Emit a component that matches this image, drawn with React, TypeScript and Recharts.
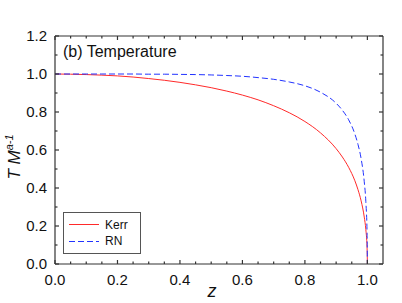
import React from 'react';
import { LineChart, Line, XAxis, YAxis, Label } from 'recharts';

// z = rotation / charge parameter
const zValues = [
  0, 0.05, 0.1, 0.15, 0.2, 0.25, 0.3, 0.35, 0.4, 0.45, 0.5, 0.55, 0.6, 0.65, 0.7,
  0.75, 0.8, 0.85, 0.9, 0.92, 0.94, 0.96, 0.97, 0.98, 0.99, 0.995, 0.999, 1.0,
];
// T M^{a-1}, Kerr
const kerrT = [
  1.0, 0.999, 0.997, 0.994, 0.99, 0.984, 0.976, 0.967, 0.956, 0.943, 0.928, 0.91, 0.889, 0.864, 0.833,
  0.796, 0.75, 0.69, 0.607, 0.563, 0.509, 0.438, 0.391, 0.332, 0.247, 0.182, 0.086, 0.0,
];
// T M^{a-1}, RN
const rnT = [
  1.0, 1.0, 1.0, 1.0, 1.0, 1.0, 0.999, 0.999, 0.998, 0.997, 0.995, 0.992, 0.988, 0.981, 0.972,
  0.958, 0.938, 0.904, 0.846, 0.809, 0.759, 0.684, 0.629, 0.554, 0.433, 0.33, 0.164, 0.0,
];

const xTicks = [0, 0.05, 0.1, 0.15, 0.2, 0.25, 0.3, 0.35, 0.4, 0.45, 0.5, 0.55, 0.6, 0.65, 0.7, 0.75, 0.8, 0.85, 0.9, 0.95, 1.0];
const yTicks = [0, 0.1, 0.2, 0.3, 0.4, 0.5, 0.6, 0.7, 0.8, 0.9, 1.0, 1.1, 1.2];
const X_MAX = 1.05;
const Y_MAX = 1.2;

const data = zValues.map((z, i) => ({ z, kerr: kerrT[i], rn: rnT[i] }));

const W = 402;
const H = 303;
const Y_AXIS_W = 40;
const X_AXIS_H = 30;
const MARGIN = { top: 36, right: 19, left: 15, bottom: 9 };
const PLOT_TOP = MARGIN.top;
const PLOT_RIGHT = W - MARGIN.right;
const PLOT_LEFT = MARGIN.left + Y_AXIS_W;
const PLOT_BOTTOM = H - MARGIN.bottom - X_AXIS_H;

const AXIS = '#333';
const TEXT = '#111';
const KERR = '#ff2a2a';
const RN = '#2233ff';
const FONT = '"Liberation Sans", Arial, sans-serif';
const BOTTOM_GAP = 21;
const LEFT_GAP = 8;

const isMajor = (v: number) => Math.round(v * 100) % 20 === 0;
const tickLen = (v: number) => (isMajor(v) ? 4 : 2.5);

// bottom tick + its mirror on the top edge
const BottomTick = ({ x, y, payload }: any) => {
  const base = y - BOTTOM_GAP;
  const v = payload.value;
  return (
    <g>
      <line x1={x} x2={x} y1={base} y2={base - tickLen(v)} stroke={AXIS} strokeWidth={1.2} />
      <line x1={x} x2={x} y1={PLOT_TOP} y2={PLOT_TOP + tickLen(v)} stroke={AXIS} strokeWidth={1.2} />
      {isMajor(v) && (
        <text x={x} y={y} textAnchor="middle" fill={TEXT} fontSize={15} fontFamily={FONT}>
          {v.toFixed(1)}
        </text>
      )}
    </g>
  );
};

// left tick + its mirror on the right edge
const LeftTick = ({ x, y, payload }: any) => {
  const base = x + LEFT_GAP;
  const v = payload.value;
  return (
    <g>
      <line x1={base} x2={base + tickLen(v)} y1={y} y2={y} stroke={AXIS} strokeWidth={1.2} />
      <line x1={PLOT_RIGHT} x2={PLOT_RIGHT - tickLen(v)} y1={y} y2={y} stroke={AXIS} strokeWidth={1.2} />
      {isMajor(v) && (
        <text x={x} y={y} dy="0.36em" textAnchor="end" fill={TEXT} fontSize={15} fontFamily={FONT}>
          {v.toFixed(1)}
        </text>
      )}
    </g>
  );
};

// y title, top/right frame edges, panel title and the boxed legend
const YTitle = ({ viewBox }: any) => {
  const bx = viewBox.x + 5;
  const cy = 157;
  return (
    <g fontFamily={FONT}>
      <line x1={PLOT_LEFT} x2={PLOT_RIGHT} y1={PLOT_TOP} y2={PLOT_TOP} stroke={AXIS} strokeWidth={1.2} />
      <line x1={PLOT_RIGHT} x2={PLOT_RIGHT} y1={PLOT_TOP} y2={PLOT_BOTTOM} stroke={AXIS} strokeWidth={1.2} />
      <text
        x={bx}
        y={cy}
        transform={`rotate(-90, ${bx}, ${cy})`}
        textAnchor="middle"
        fill={TEXT}
        fontStyle="italic"
        fontSize={17}
      >
        T M
        <tspan fontSize={11} dy={-7}>a-1</tspan>
      </text>
      <text x={63} y={57} fontSize={16} fill={TEXT}>(b) Temperature</text>
      <rect x={63.5} y={212.5} width={77} height={41} fill="#fff" stroke="#555" />
      <line x1={69} x2={99} y1={224.5} y2={224.5} stroke={KERR} />
      <text x={105} y={228.5} fontSize={12} fill={TEXT}>Kerr</text>
      <line x1={69} x2={99} y1={241.5} y2={241.5} stroke={RN} strokeDasharray="6 3" />
      <text x={105} y={245} fontSize={12} fill={TEXT}>RN</text>
    </g>
  );
};

const XTitle = ({ viewBox }: any) => (
  <text
    x={212}
    y={viewBox.y + 32.5}
    textAnchor="middle"
    fill={TEXT}
    fontFamily={FONT}
    fontStyle="italic"
    fontSize={18}
  >
    z
  </text>
);

export default function App() {
  return (
    <div style={{ position: 'absolute', left: 0, top: 0, width: W, height: H, background: '#fff' }}>
      <LineChart width={W} height={H} data={data} margin={MARGIN}>
        <XAxis
          dataKey="z"
          type="number"
          domain={[0, X_MAX]}
          ticks={xTicks}
          interval={0}
          height={X_AXIS_H}
          stroke={AXIS}
          strokeWidth={1.2}
          tickLine={false}
          tickSize={0}
          tickMargin={BOTTOM_GAP}
          tick={<BottomTick />}
        >
          <Label content={<XTitle />} />
        </XAxis>
        <YAxis
          type="number"
          domain={[0, Y_MAX]}
          ticks={yTicks}
          interval={0}
          width={Y_AXIS_W}
          stroke={AXIS}
          strokeWidth={1.2}
          tickLine={false}
          tickSize={0}
          tickMargin={LEFT_GAP}
          tick={<LeftTick />}
        >
          <Label content={<YTitle />} />
        </YAxis>
        <Line
          type="monotone"
          dataKey="kerr"
          name="Kerr"
          stroke={KERR}
          strokeWidth={1}
          dot={false}
          isAnimationActive={false}
        />
        <Line
          type="monotone"
          dataKey="rn"
          name="RN"
          stroke={RN}
          strokeWidth={1}
          strokeDasharray="6 3"
          dot={false}
          isAnimationActive={false}
        />
      </LineChart>
    </div>
  );
}
